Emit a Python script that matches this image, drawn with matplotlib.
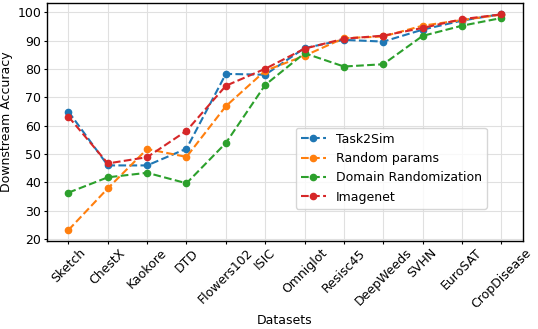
import matplotlib
matplotlib.use('Agg')
import matplotlib.pyplot as plt

datasets = ['Sketch', 'ChestX', 'Kaokore', 'DTD', 'Flowers102', 'ISIC', 'Omniglot',
            'Resisc45', 'DeepWeeds', 'SVHN', 'EuroSAT', 'CropDisease']
task2sim = [65.0, 46.0, 46.0, 51.9, 78.3, 78.0, 87.4, 90.3, 89.7, 93.9, 97.1, 99.4]
random_params = [23.2, 37.9, 51.8, 49.0, 66.9, 79.4, 84.7, 90.9, 91.5, 95.3, 97.3, 99.2]
domain_rand = [36.4, 41.8, 43.4, 39.7, 53.9, 74.4, 85.6, 80.9, 81.7, 91.7, 95.3, 98.0]
imagenet = [63.2, 46.7, 48.9, 58.2, 74.1, 80.1, 87.2, 90.7, 91.8, 94.5, 97.6, 99.3]

fig = plt.figure(figsize=(5.38, 3.29), dpi=100)
ax = fig.add_axes([0.087, 0.268, 0.885, 0.722])
x = range(len(datasets))
style = dict(ls='--', marker='o', lw=1.5, ms=4.5)
ax.plot(x, task2sim, color='tab:blue', label='Task2Sim', **style)
ax.plot(x, random_params, color='tab:orange', label='Random params', **style)
ax.plot(x, domain_rand, color='tab:green', label='Domain Randomization', **style)
ax.plot(x, imagenet, color='tab:red', label='Imagenet', **style)

ax.set_xticks(list(x))
ax.set_xticklabels(datasets, rotation=45, fontsize=9)
ax.tick_params(axis='both', labelsize=9, length=2, pad=2)
ax.set_yticks(range(20, 101, 10))
ax.set_xlabel('Datasets', fontsize=9, labelpad=2)
ax.set_ylabel('Downstream Accuracy', fontsize=9, labelpad=3)
ax.grid(True, color='#e0e0e0', lw=0.8)
for s in ax.spines.values():
    s.set_linewidth(1.0)
ax.legend(loc='lower right', bbox_to_anchor=(0.924, 0.136), borderaxespad=0, fontsize=9)

fig.savefig('out.png', dpi=100)
